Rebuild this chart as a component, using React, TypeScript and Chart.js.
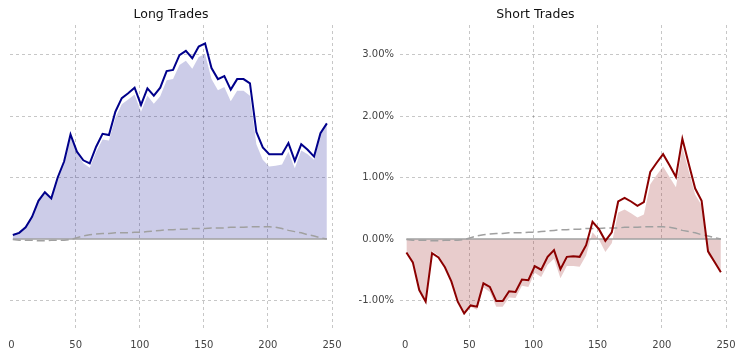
import React, { useEffect, useRef } from "react";
import { Chart, registerables } from "chart.js";

Chart.register(...registerables);

// Holding period (days)
const days = [1, 6, 11, 16, 21, 26, 31, 36, 41, 46, 51, 56, 61, 66, 71, 76, 81, 86, 91, 96, 101, 106, 111, 116, 121, 126, 131, 136, 141, 146, 151, 156, 161, 166, 171, 176, 181, 186, 191, 196, 201, 206, 211, 216, 221, 226, 231, 236, 241, 246];

// Long trades: average return (%)
const longReturns = [0.065, 0.10, 0.19, 0.36, 0.62, 0.76, 0.66, 1.00, 1.26, 1.70, 1.42, 1.28, 1.23, 1.50, 1.71, 1.69, 2.07, 2.29, 2.37, 2.46, 2.18, 2.45, 2.33, 2.46, 2.73, 2.75, 2.99, 3.06, 2.94, 3.13, 3.18, 2.78, 2.60, 2.65, 2.43, 2.60, 2.60, 2.53, 1.74, 1.49, 1.38, 1.38, 1.38, 1.56, 1.27, 1.54, 1.45, 1.34, 1.72, 1.88];
// Long trades: excess return over benchmark (%)
const longExcess = [0.075, 0.12, 0.21, 0.38, 0.65, 0.79, 0.68, 1.02, 1.28, 1.71, 1.40, 1.23, 1.16, 1.42, 1.62, 1.60, 1.97, 2.19, 2.27, 2.35, 2.07, 2.33, 2.20, 2.32, 2.58, 2.60, 2.83, 2.90, 2.77, 2.96, 3.01, 2.60, 2.42, 2.47, 2.24, 2.41, 2.41, 2.33, 1.54, 1.29, 1.18, 1.19, 1.21, 1.42, 1.15, 1.44, 1.38, 1.29, 1.70, 1.88];

// Short trades: average return (%)
const shortReturns = [-0.22, -0.38, -0.83, -1.02, -0.23, -0.30, -0.46, -0.69, -1.02, -1.21, -1.08, -1.10, -0.72, -0.78, -1.01, -1.01, -0.85, -0.86, -0.66, -0.67, -0.44, -0.50, -0.29, -0.18, -0.49, -0.29, -0.28, -0.29, -0.10, 0.28, 0.16, -0.03, 0.11, 0.61, 0.67, 0.61, 0.54, 0.60, 1.09, 1.24, 1.38, 1.20, 1.01, 1.63, 1.22, 0.82, 0.62, -0.20, -0.37, -0.54];
// Short trades: excess return over benchmark (%)
const shortExcess = [-0.21, -0.36, -0.81, -1.00, -0.20, -0.27, -0.44, -0.67, -1.00, -1.20, -1.10, -1.15, -0.79, -0.86, -1.10, -1.10, -0.95, -0.96, -0.76, -0.78, -0.55, -0.62, -0.42, -0.32, -0.64, -0.44, -0.44, -0.45, -0.27, 0.11, -0.01, -0.21, -0.07, 0.43, 0.48, 0.42, 0.35, 0.40, 0.89, 1.04, 1.18, 1.01, 0.84, 1.49, 1.10, 0.72, 0.55, -0.25, -0.39, -0.54];

// Benchmark drift (%)
const benchmark = [-0.01, -0.02, -0.02, -0.02, -0.03, -0.03, -0.02, -0.02, -0.02, -0.01, 0.02, 0.05, 0.07, 0.08, 0.09, 0.09, 0.10, 0.10, 0.10, 0.11, 0.11, 0.12, 0.13, 0.14, 0.15, 0.15, 0.16, 0.16, 0.17, 0.17, 0.17, 0.18, 0.18, 0.18, 0.19, 0.19, 0.19, 0.20, 0.20, 0.20, 0.20, 0.19, 0.17, 0.14, 0.12, 0.10, 0.07, 0.05, 0.02, 0.00];

const xTicks = [0, 50, 100, 150, 200, 250];
const yTicks = [-1, 0, 1, 2, 3];

const FONT = "'DejaVu Sans', 'Liberation Sans', sans-serif";
const GRID = "rgba(0,0,0,0.22)";

type Props = {
  title: string;
  line: number[];
  excess: number[];
  lineColor: string;
  fillColor: string;
  showY: boolean;
  xMin: number;
  padLeft: number;
  padRight: number;
  yWidth: number;
  width: number;
};

function pts(vals: number[]) {
  return vals.map((v, i) => ({ x: days[i], y: v }));
}

function TradeChart(p: Props) {
  const ref = useRef<HTMLCanvasElement | null>(null);
  useEffect(() => {
    if (!ref.current) return;
    const chart = new Chart(ref.current, {
      type: "line",
      data: {
        datasets: [
          {
            data: pts(p.line),
            borderColor: p.lineColor,
            borderWidth: 2,
            pointRadius: 0,
            fill: false,
            order: 0,
          },
          {
            data: pts(benchmark),
            borderColor: "rgba(160,160,160,1)",
            borderWidth: 1.5,
            borderDash: [8, 4],
            pointRadius: 0,
            fill: false,
            order: 1,
          },
          {
            data: [
              { x: days[0], y: 0 },
              { x: days[days.length - 1], y: 0 },
            ],
            borderColor: "rgba(160,160,160,1)",
            borderWidth: 1.5,
            pointRadius: 0,
            fill: false,
            order: 2,
          },
          {
            data: pts(p.excess),
            borderWidth: 0,
            borderColor: "rgba(0,0,0,0)",
            backgroundColor: p.fillColor,
            pointRadius: 0,
            fill: "origin",
            order: 3,
          },
        ],
      },
      options: {
        animation: false,
        responsive: false,
        maintainAspectRatio: false,
        layout: { padding: { left: p.padLeft, right: p.padRight, top: 0, bottom: 5 } },
        plugins: {
          legend: { display: false },
          tooltip: { enabled: false },
          title: {
            display: true,
            text: p.title,
            color: "#111",
            font: { family: FONT, size: 12.5, weight: "normal" },
            padding: { top: 7, bottom: 3 },
          },
        },
        scales: {
          x: {
            type: "linear",
            min: p.xMin,
            max: 250,
            afterBuildTicks: (s: any) => {
              s.ticks = xTicks.map((v) => ({ value: v }));
            },
            afterFit: (s: any) => {
              s.height = 23;
              s.paddingLeft = 0;
              s.paddingRight = 0;
            },
            ticks: {
              color: "#444",
              font: { family: FONT, size: 10 },
              padding: 9,
              maxRotation: 0,
              autoSkip: false,
            },
            grid: {
              drawTicks: false,
              color: (c: any) => (c.tick && c.tick.value === 0 ? "rgba(0,0,0,0)" : GRID),
              lineWidth: 1,
            },
            border: { display: false, dash: [3, 3] },
          },
          y: {
            type: "linear",
            min: -1.48,
            max: 3.48,
            afterBuildTicks: (s: any) => {
              s.ticks = yTicks.map((v) => ({ value: v }));
            },
            afterFit: (s: any) => {
              s.width = p.yWidth;
              s.paddingTop = 0;
              s.paddingBottom = 0;
            },
            ticks: {
              display: p.showY,
              color: "#444",
              font: { family: FONT, size: 10 },
              padding: 6,
              callback: (v: any) => Number(v).toFixed(2) + "%",
            },
            grid: {
              drawTicks: false,
              color: (c: any) => (c.tick && c.tick.value === 0 ? "rgba(0,0,0,0)" : GRID),
              lineWidth: 1,
            },
            border: { display: false, dash: [3, 3] },
          },
        },
      } as any,
    });
    return () => chart.destroy();
  }, []);
  return <canvas ref={ref} width={p.width} height={358} style={{ display: "block" }} />;
}

export default function App() {
  return (
    <div style={{ position: "fixed", left: 0, top: 0, width: 738, height: 358, background: "#fff" }}>
      <div style={{ position: "absolute", left: 0, top: 0, width: 345, height: 358 }}>
        <TradeChart
          title="Long Trades"
          line={longReturns}
          excess={longExcess}
          lineColor="rgb(0,0,139)"
          fillColor="rgba(0,0,139,0.2)"
          showY={false}
          xMin={-1.2}
          padLeft={10}
          padRight={13}
          yWidth={0}
          width={345}
        />
      </div>
      <div style={{ position: "absolute", left: 345, top: 0, width: 393, height: 358 }}>
        <TradeChart
          title="Short Trades"
          line={shortReturns}
          excess={shortExcess}
          lineColor="rgb(139,0,0)"
          fillColor="rgba(139,0,0,0.2)"
          showY={true}
          xMin={-4}
          padLeft={0}
          padRight={12}
          yWidth={55}
          width={393}
        />
      </div>
    </div>
  );
}
